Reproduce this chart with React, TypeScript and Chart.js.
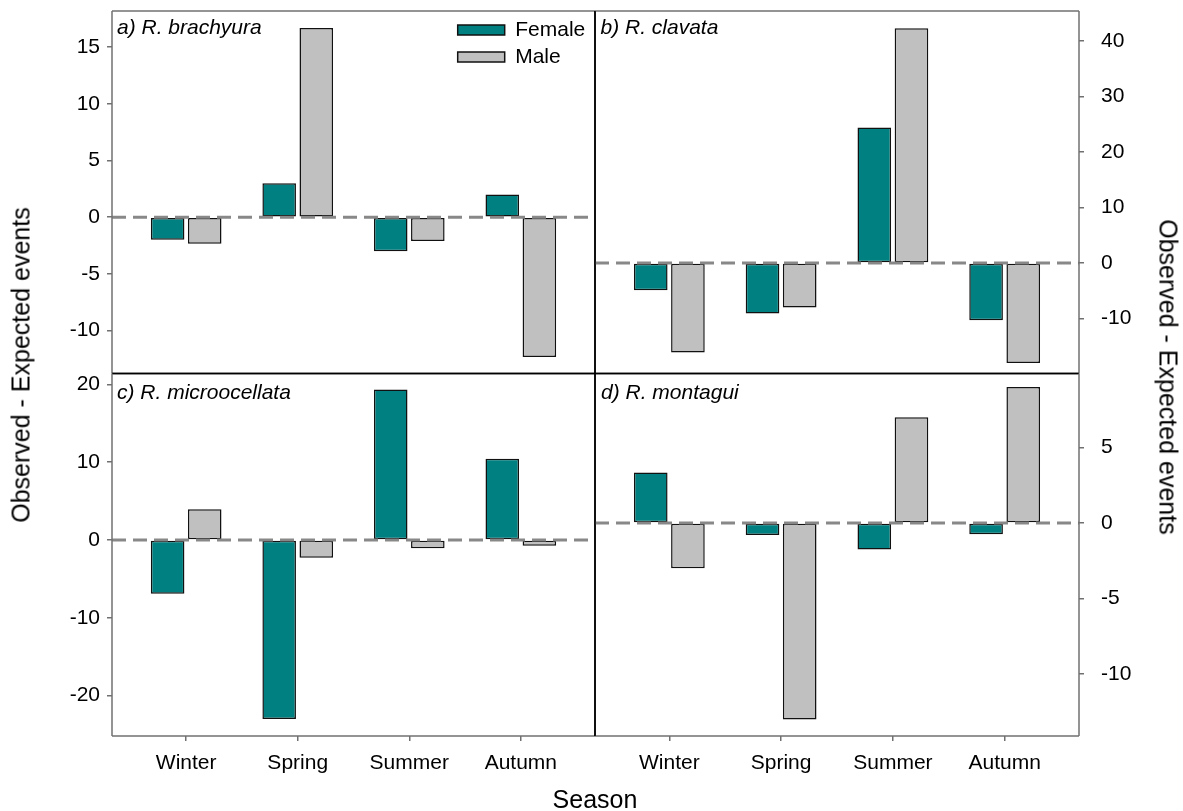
import React, { useEffect, useRef } from "react";
import { Chart, registerables } from "chart.js";

Chart.register(...registerables);

// ---------------- data ----------------
const seasons = ["Winter", "Spring", "Summer", "Autumn"];
const seriesNames = ["Female", "Male"];

const brachyuraFemale = [-2.0, 3.0, -3.0, 2.0];
const brachyuraMale = [-2.35, 16.7, -2.1, -12.35];
const clavataFemale = [-4.9, -9.1, 24.4, -10.3];
const clavataMale = [-16.1, -8.0, 42.3, -18.0];
const microocellataFemale = [-6.9, -23.0, 19.35, 10.45];
const microocellataMale = [3.95, -2.3, -1.05, -0.75];
const montaguiFemale = [3.35, -0.8, -1.75, -0.75];
const montaguiMale = [-3.0, -13.0, 7.0, 9.0];

const panelTitles = ["a) R. brachyura", "b) R. clavata", "c) R. microocellata", "d) R. montagui"];
const yTitle = "Observed - Expected events";
const xTitle = "Season";

const yRangeA = [-13.8, 18.2];
const yRangeB = [-19.9, 45.4];
const yRangeC = [-25.2, 21.4];
const yRangeD = [-14.1, 9.9];
const yStepA = 5;
const yStepB = 10;
const yStepC = 10;
const yStepD = 5;
const seasonRange = [-0.665, 3.665];

// ---------------- styles ----------------
const FONT_FAMILY = "'Liberation Sans', Arial, Helvetica, sans-serif";
const FEMALE_COLOR = "#008080";
const MALE_COLOR = "#C0C0C0";
const BAR_EDGE = "#111111";
const AXIS_GRAY = "#707070";
const DIVIDER = "#000000";
const ZERO_LINE = "#888888";

type Edges = { top: string; right: string; bottom: string; left: string };

type PanelCfg = {
  female: number[];
  male: number[];
  yRange: number[];
  yStep: number;
  yPos: "left" | "right";
  yWidth: number;
  showX: boolean;
  legend: boolean;
  box: { left: number; top: number; width: number; height: number };
  padding: { left: number; top: number; right: number; bottom: number };
  edges: Edges;
};

function framePlugin(edges: Edges) {
  return {
    id: "frame",
    afterDatasetsDraw(chart: any) {
      const { ctx, chartArea } = chart;
      const { left, right, top, bottom } = chartArea;
      const y0 = chart.scales.y.getPixelForValue(0);
      ctx.save();
      // dashed zero reference line
      ctx.beginPath();
      ctx.setLineDash([14, 7]);
      ctx.lineWidth = 3;
      ctx.strokeStyle = ZERO_LINE;
      ctx.moveTo(left, y0);
      ctx.lineTo(right, y0);
      ctx.stroke();
      ctx.setLineDash([]);
      // frame
      ctx.lineWidth = 1.5;
      const seg = (x1: number, y1: number, x2: number, y2: number, c: string) => {
        ctx.beginPath();
        ctx.strokeStyle = c;
        ctx.moveTo(x1, y1);
        ctx.lineTo(x2, y2);
        ctx.stroke();
      };
      seg(left, top, right, top, edges.top);
      seg(left, bottom, right, bottom, edges.bottom);
      seg(left, top, left, bottom, edges.left);
      seg(right, top, right, bottom, edges.right);
      ctx.restore();
    },
  };
}

const legendPlacer = {
  id: "legendPlacer",
  afterLayout(chart: any) {
    const lg = chart.legend;
    if (lg && lg.options && lg.options.display) {
      lg.left = 451.7;
      lg.top = 13.5;
    }
  },
};

function buildConfig(p: PanelCfg): any {
  const font = { family: FONT_FAMILY, size: 21 };
  const datasets = [
    {
      label: seriesNames[0],
      data: seasons.map((_, i) => ({ x: i, y: p.female[i] })),
      backgroundColor: FEMALE_COLOR,
      borderColor: BAR_EDGE,
      borderWidth: 1.5,
      borderSkipped: false,
      categoryPercentage: 0.665,
      barPercentage: 0.905,
    },
    {
      label: seriesNames[1],
      data: seasons.map((_, i) => ({ x: i, y: p.male[i] })),
      backgroundColor: MALE_COLOR,
      borderColor: BAR_EDGE,
      borderWidth: 1.5,
      borderSkipped: false,
      categoryPercentage: 0.665,
      barPercentage: 0.905,
    },
  ];
  const zeroPad = (s: any) => {
    s.paddingLeft = 0;
    s.paddingRight = 0;
    s.paddingTop = 0;
    s.paddingBottom = 0;
  };
  return {
    type: "bar",
    data: { datasets },
    options: {
      animation: false,
      responsive: true,
      maintainAspectRatio: false,
      events: [],
      layout: { padding: p.padding, autoPadding: false },
      scales: {
        x: {
          type: "linear",
          display: p.showX,
          min: seasonRange[0],
          max: seasonRange[1],
          offset: false,
          grid: {
            display: true,
            drawOnChartArea: false,
            drawTicks: true,
            tickLength: 5,
            color: AXIS_GRAY,
            lineWidth: 1.5,
            offset: false,
          },
          border: { display: false },
          ticks: {
            stepSize: 1,
            includeBounds: false,
            autoSkip: false,
            maxRotation: 0,
            minRotation: 0,
            padding: 10,
            color: "#000",
            font,
            callback: (v: number) => seasons[v] ?? "",
          },
          afterFit: (s: any) => {
            s.height = p.showX ? 75 : 0;
            zeroPad(s);
          },
        },
        y: {
          type: "linear",
          position: p.yPos,
          min: p.yRange[0],
          max: p.yRange[1],
          grid: {
            display: true,
            drawOnChartArea: false,
            drawTicks: true,
            tickLength: 5,
            color: AXIS_GRAY,
            lineWidth: 1.5,
          },
          border: { display: false },
          ticks: {
            stepSize: p.yStep,
            includeBounds: false,
            autoSkip: false,
            padding: p.yPos === "left" ? 7 : 17,
            color: "#000",
            font,
            callback: (v: number) => String(v),
          },
          afterFit: (s: any) => {
            s.width = p.yWidth;
            zeroPad(s);
          },
        },
      },
      plugins: {
        legend: p.legend
          ? {
              display: true,
              position: "chartArea",
              align: "start",
              labels: {
                font,
                color: "#000",
                boxWidth: 47,
                boxHeight: 10,
                padding: 6,
              },
            }
          : { display: false },
        tooltip: { enabled: false },
        title: { display: false },
      },
    },
    plugins: [framePlugin(p.edges), legendPlacer],
  };
}

const panels: PanelCfg[] = [
  {
    female: brachyuraFemale,
    male: brachyuraMale,
    yRange: yRangeA,
    yStep: yStepA,
    yPos: "left",
    yWidth: 112,
    showX: false,
    legend: true,
    box: { left: 0, top: 0, width: 600, height: 380 },
    padding: { left: 0, top: 11, right: 5, bottom: 6.5 },
    edges: { top: AXIS_GRAY, left: AXIS_GRAY, right: DIVIDER, bottom: DIVIDER },
  },
  {
    female: clavataFemale,
    male: clavataMale,
    yRange: yRangeB,
    yStep: yStepB,
    yPos: "right",
    yWidth: 104,
    showX: false,
    legend: false,
    box: { left: 590, top: 0, width: 593, height: 380 },
    padding: { left: 5, top: 11, right: 0, bottom: 6.5 },
    edges: { top: AXIS_GRAY, right: AXIS_GRAY, left: DIVIDER, bottom: DIVIDER },
  },
  {
    female: microocellataFemale,
    male: microocellataMale,
    yRange: yRangeC,
    yStep: yStepC,
    yPos: "left",
    yWidth: 112,
    showX: true,
    legend: false,
    box: { left: 0, top: 368, width: 600, height: 443 },
    padding: { left: 0, top: 5.5, right: 5, bottom: 0 },
    edges: { top: DIVIDER, left: AXIS_GRAY, right: DIVIDER, bottom: AXIS_GRAY },
  },
  {
    female: montaguiFemale,
    male: montaguiMale,
    yRange: yRangeD,
    yStep: yStepD,
    yPos: "right",
    yWidth: 104,
    showX: true,
    legend: false,
    box: { left: 590, top: 368, width: 593, height: 443 },
    padding: { left: 5, top: 5.5, right: 0, bottom: 0 },
    edges: { top: DIVIDER, right: AXIS_GRAY, left: DIVIDER, bottom: AXIS_GRAY },
  },
];

const titlePositions = [
  { left: 117, top: 15.5 },
  { left: 600.5, top: 15.5 },
  { left: 117, top: 380.5 },
  { left: 601, top: 380.5 },
];

function Panel({ cfg }: { cfg: PanelCfg }) {
  const ref = useRef<HTMLCanvasElement | null>(null);
  useEffect(() => {
    if (!ref.current) return;
    const chart = new Chart(ref.current, buildConfig(cfg));
    return () => chart.destroy();
  }, [cfg]);
  return (
    <div
      style={{
        position: "absolute",
        left: cfg.box.left,
        top: cfg.box.top,
        width: cfg.box.width,
        height: cfg.box.height,
      }}
    >
      <canvas ref={ref} />
    </div>
  );
}

export default function App() {
  const textBase: React.CSSProperties = {
    position: "absolute",
    fontFamily: FONT_FAMILY,
    color: "#000",
    whiteSpace: "nowrap",
    lineHeight: 1,
  };
  return (
    <div
      style={{
        position: "absolute",
        left: 0,
        top: 0,
        width: 1183,
        height: 811,
        overflow: "hidden",
        background: "#fff",
      }}
    >
      {panels.map((p, i) => (
        <Panel key={i} cfg={p} />
      ))}
      {panelTitles.map((t, i) => (
        <div
          key={t}
          style={{
            ...textBase,
            left: titlePositions[i].left,
            top: titlePositions[i].top,
            fontSize: 21,
            fontStyle: "italic",
          }}
        >
          {t}
        </div>
      ))}
      <div
        style={{
          ...textBase,
          left: 20.8,
          top: 365,
          fontSize: 25,
          transform: "translate(-50%, -50%) rotate(-90deg)",
        }}
      >
        {yTitle}
      </div>
      <div
        style={{
          ...textBase,
          left: 1167.5,
          top: 377,
          fontSize: 25,
          transform: "translate(-50%, -50%) rotate(90deg)",
        }}
      >
        {yTitle}
      </div>
      <div
        style={{
          ...textBase,
          left: 595,
          top: 786.7,
          fontSize: 25,
          transform: "translateX(-50%)",
        }}
      >
        {xTitle}
      </div>
    </div>
  );
}
